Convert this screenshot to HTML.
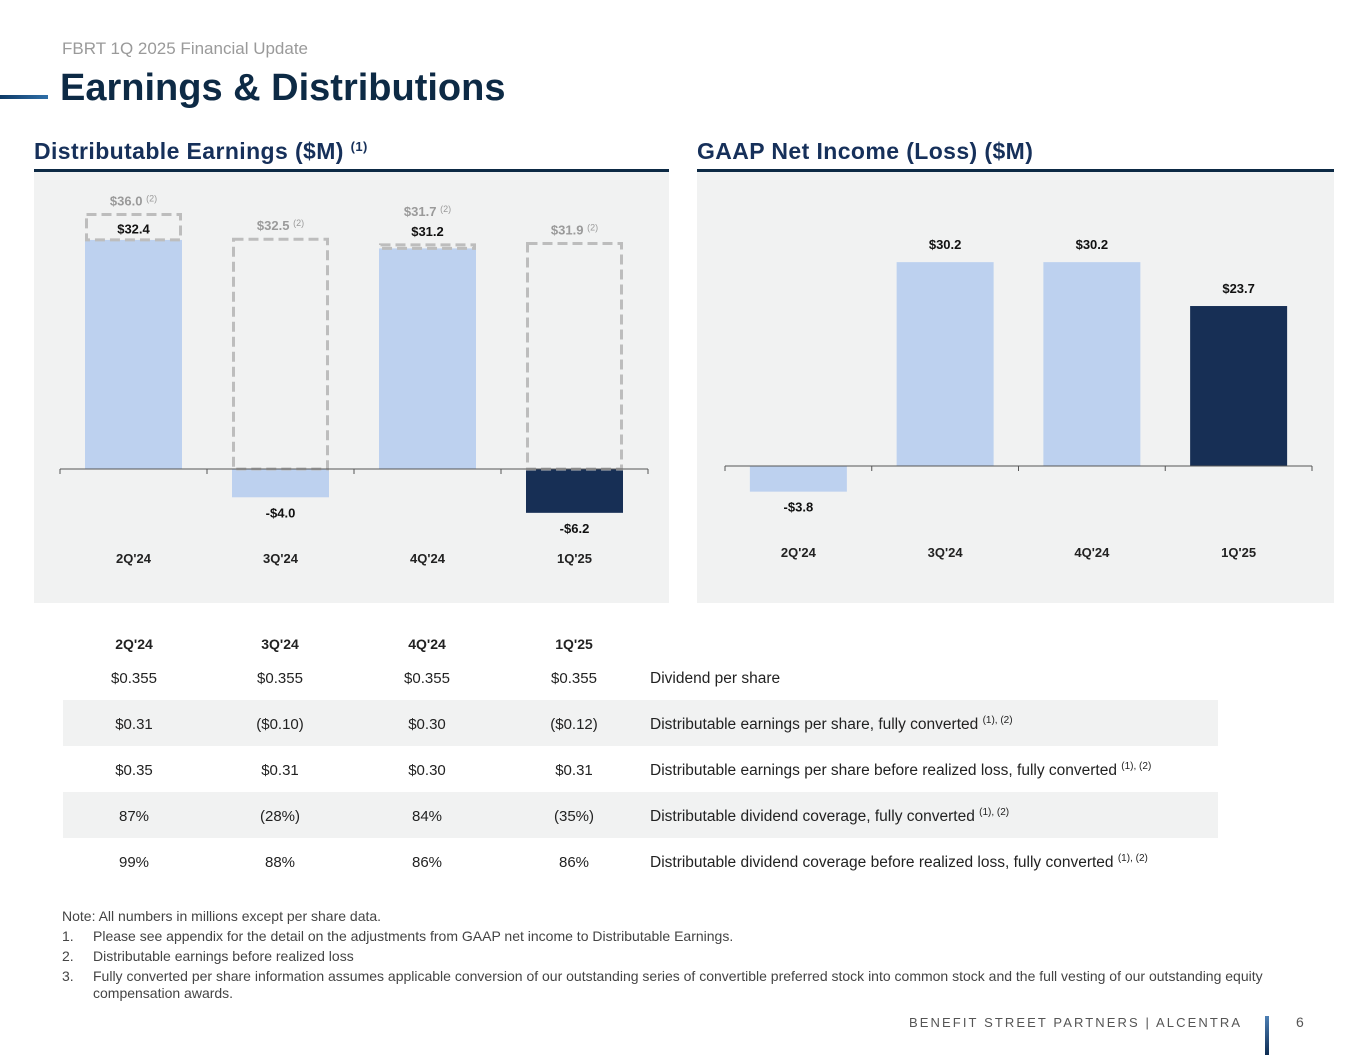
<!DOCTYPE html>
<html><head><meta charset="utf-8"><style>
html,body{margin:0;padding:0;background:#fff;}
body{width:1365px;height:1055px;overflow:hidden;font-family:"Liberation Sans",sans-serif;}
svg text{font-family:"Liberation Sans",sans-serif;}
</style></head><body>
<svg id="s" width="1365" height="1055" xmlns="http://www.w3.org/2000/svg">
<defs><linearGradient id="g1" x1="0" x2="1"><stop offset="0" stop-color="#0e3a66"/><stop offset="1" stop-color="#2f6fa8"/></linearGradient>
<linearGradient id="g2" x1="0" y1="0" x2="0" y2="1"><stop offset="0" stop-color="#4d7fb4"/><stop offset="1" stop-color="#0e2c52"/></linearGradient></defs>
<text x="62" y="54" font-size="17" fill="#9a9a9a">FBRT 1Q 2025 Financial Update</text>
<rect x="0" y="95" width="48" height="4" fill="url(#g1)"/>
<text x="60" y="100" font-size="38" font-weight="bold" fill="#0d2a45">Earnings &amp; Distributions</text>
<text x="34" y="159" font-size="23" font-weight="bold" fill="#16305a" letter-spacing="0.4">Distributable Earnings ($M) <tspan font-size="13" dy="-8">(1)</tspan></text>
<text x="697" y="159" font-size="23" font-weight="bold" fill="#16305a" letter-spacing="0.4">GAAP Net Income (Loss) ($M)</text>
<rect x="34" y="169" width="635" height="3" fill="#0d2a45"/>
<rect x="697" y="169" width="637" height="3" fill="#0d2a45"/>
<rect x="34" y="172" width="635" height="431" fill="#f1f2f2"/>
<rect x="697" y="172" width="637" height="431" fill="#f1f2f2"/>
<g id="left"></g>
<g id="right"></g>
<g id="table"></g>
<g font-size="14" fill="#444">
<text x="62" y="921">Note: All numbers in millions except per share data.</text>
<text x="62" y="941">1.</text><text x="93" y="941">Please see appendix for the detail on the adjustments from GAAP net income to Distributable Earnings.</text>
<text x="62" y="961">2.</text><text x="93" y="961">Distributable earnings before realized loss</text>
<text x="62" y="981">3.</text><text x="93" y="981">Fully converted per share information assumes applicable conversion of our outstanding series of convertible preferred stock into common stock and the full vesting of our outstanding equity</text>
<text x="93" y="998">compensation awards.</text>
</g>
<text x="909" y="1027" font-size="13" fill="#555" letter-spacing="2.1">BENEFIT STREET PARTNERS | ALCENTRA</text>
<rect x="1265" y="1016" width="4" height="39" fill="url(#g2)"/>
<text x="1296" y="1027" font-size="14" fill="#555">6</text>
</svg>
<script>
const cats=["2Q'24","3Q'24","4Q'24","1Q'25"];
const deVals=[32.4,-4.0,31.2,-6.2];
const deBefore=[36.0,32.5,31.7,31.9];
const niVals=[-3.8,30.2,30.2,23.7];
const tblHeads=["2Q'24","3Q'24","4Q'24","1Q'25"];
const tblRows=[
 ["$0.355","$0.355","$0.355","$0.355"],
 ["$0.31","($0.10)","$0.30","($0.12)"],
 ["$0.35","$0.31","$0.30","$0.31"],
 ["87%","(28%)","84%","(35%)"],
 ["99%","88%","86%","86%"]];
const tblLabels=["Dividend per share","Distributable earnings per share, fully converted","Distributable earnings per share before realized loss, fully converted","Distributable dividend coverage, fully converted","Distributable dividend coverage before realized loss, fully converted"];
const NS="http://www.w3.org/2000/svg";
function mk(p,t,a,txt){const e=document.createElementNS(NS,t);for(const k in a)e.setAttribute(k,a[k]);if(txt!=null)e.textContent=txt;p.appendChild(e);return e;}
function fmt(v){return (v<0?"-$":"$")+Math.abs(v).toFixed(1);}
function chart(g,vals,before,x0,x1,base,scale,catY){
 const n=vals.length,step=(x1-x0)/n,bw=97;
 const xc=i=>x0+step*(i+0.5), y=v=>base-v*scale;
 for(let i=0;i<n;i++){
  const v=vals[i],top=Math.min(y(v),base),h=Math.abs(y(v)-base);
  const r=mk(g,'rect',{x:xc(i)-bw/2,y:top,width:bw,height:h,fill:i===n-1?'#172f55':'#bdd1ef'});
  
  
  let ly=v>=0?y(v)-13:y(v)+20;
  if(before){
   const b=before[i],by=y(b),bt=v>0?y(v):base;
   const d=mk(g,'rect',{x:xc(i)-bw/2+1.5,y:by,width:bw-3,height:bt-by,fill:'none',stroke:'#bdbdbd','stroke-width':3,'stroke-dasharray':'10,5'});
   
   
   let bly=by-9;
   if(v>0){
     if(b-v>2.5){ly=by+19;} else {ly=by-9;bly=by-29;}
   }
   const t=mk(g,'text',{x:xc(i),y:bly,'text-anchor':'middle','font-size':13,'font-weight':'bold',fill:'#9a9a9a'});
   t.innerHTML=fmt(b)+' <tspan font-size="9" dy="-4" font-weight="normal">(2)</tspan>';
   
   
  }
  const lt=mk(g,'text',{x:xc(i),y:ly,'text-anchor':'middle','font-size':13,'font-weight':'bold',fill:'#111'},fmt(v));
  
  
  const c=mk(g,'text',{x:xc(i),y:catY,'text-anchor':'middle','font-size':13,'font-weight':'bold',fill:'#222'},cats[i]);
  
  
 }
 const ax=mk(g,'line',{x1:x0,x2:x1,y1:base,y2:base,stroke:'#555','stroke-width':1});
 
 
 for(let i=0;i<=n;i++){const tk=mk(g,'line',{x1:x0+step*i,x2:x0+step*i,y1:base,y2:base+5,stroke:'#555'});
  
  }
}
chart(document.getElementById('left'),deVals,deBefore,60,648,469,7.07,563);
chart(document.getElementById('right'),niVals,null,725,1312,466,6.75,557);
const tg=document.getElementById('table');
const cx=[134,280,427,574];
[1,3].forEach(r=>{const s=mk(tg,'rect',{x:63,y:700+46*(r-1),width:1155,height:46,fill:'#f1f2f2'});
 
 });
tblHeads.forEach((h,i)=>{const t=mk(tg,'text',{x:cx[i],y:649,'text-anchor':'middle','font-size':14,'font-weight':'bold',fill:'#222'},h);
 
 });
tblRows.forEach((row,r)=>{const yy=683+46*r;
 row.forEach((v,i)=>{const t=mk(tg,'text',{x:cx[i],y:yy,'text-anchor':'middle','font-size':15,fill:'#222'},v);
  
  });
 const l=mk(tg,'text',{x:650,y:yy,'font-size':15.5,fill:'#222'});
 l.innerHTML=tblLabels[r]+(r>0?' <tspan font-size="10" dy="-6">(1), (2)</tspan>':'');
 
 
});
</script>
</body></html>
